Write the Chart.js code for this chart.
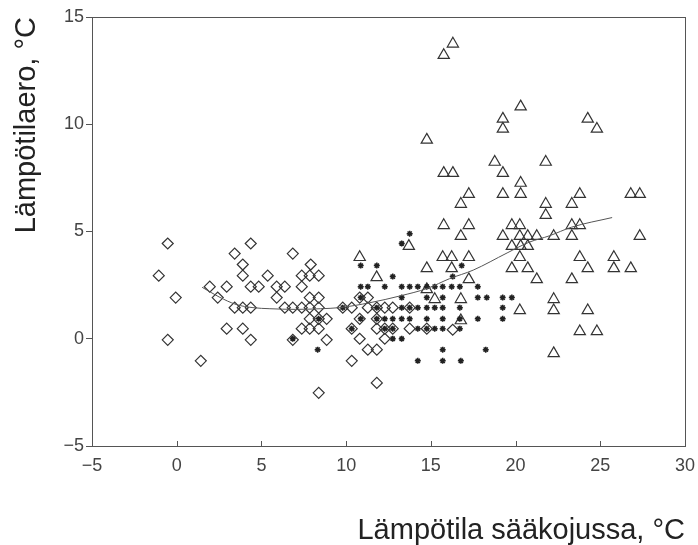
<!DOCTYPE html>
<html>
<head>
<meta charset="utf-8">
<script src="https://cdn.jsdelivr.net/npm/chart.js@4.4.1/dist/chart.umd.min.js"></script>
<style>
html,body{margin:0;padding:0;background:#fff;}
#wrap{width:698px;height:545px;}
</style>
</head>
<body>
<div id="wrap"><canvas id="c" width="698" height="545"></canvas></div>
<script>
// Axis ticks
const xTicks = [-5, 0, 5, 10, 15, 20, 25, 30];
const yTicks = [-5, 0, 5, 10, 15];

// Diamonds (cold)
const diamondX = [-0.53,4.37,3.42,6.85,3.9,7.91,-1.06,3.9,5.37,7.38,7.85,8.38,1.95,2.95,4.37,4.84,5.9,6.38,7.38,-0.06,2.42,5.9,7.85,8.38,3.42,3.9,4.37,6.38,6.85,7.38,7.85,8.38,7.85,8.38,8.85,2.95,3.9,7.38,7.85,8.38,-0.53,4.37,6.85,8.85,1.42,8.38,9.8,10.33,10.8,11.28,11.28,11.81,12.28,12.75,13.75,10.8,11.81,10.33,11.81,12.28,12.75,13.75,14.76,10.8,12.28,11.28,11.81,10.33,11.81,16.29];
const diamondY = [4.44,4.44,3.97,3.97,3.46,3.46,2.94,2.94,2.94,2.94,2.94,2.94,2.43,2.43,2.43,2.43,2.43,2.43,2.43,1.92,1.92,1.92,1.92,1.92,1.45,1.45,1.45,1.45,1.45,1.45,1.45,1.45,0.93,0.93,0.93,0.47,0.47,0.47,0.47,0.47,-0.05,-0.05,-0.05,-0.05,-1.03,-2.52,1.45,1.45,1.92,1.92,1.45,1.45,1.45,1.45,1.45,0.93,0.93,0.47,0.47,0.47,0.47,0.47,0.47,0,0,-0.51,-0.51,-1.03,-2.06,0.42];

// Stars (intermediate)
const starX = [13.75,13.28,10.86,11.81,16.82,12.75,16.29,
  10.86,11.28,12.28,13.28,13.75,14.23,14.76,15.23,15.7,16.23,16.71,17.77,
  10.86,13.28,14.76,15.7,17.77,18.3,19.24,19.78,
  9.8,11.81,13.28,13.75,14.23,14.76,15.23,15.7,16.71,19.24,
  8.38,10.86,11.81,12.28,12.75,13.28,13.75,14.76,15.7,16.71,17.77,19.24,
  10.33,12.28,12.75,14.23,14.76,15.23,15.7,16.71,
  6.85,12.75,13.28,
  8.32,15.7,18.24,
  14.23,15.7,16.77];
const starY = [4.9,4.44,3.41,3.41,3.41,2.9,2.9,
  2.43,2.43,2.43,2.43,2.43,2.43,2.43,2.43,2.43,2.43,2.43,2.43,
  1.92,1.92,1.92,1.92,1.92,1.92,1.92,1.92,
  1.45,1.45,1.45,1.45,1.45,1.45,1.45,1.45,1.45,1.45,
  0.93,0.93,0.93,0.93,0.93,0.93,0.93,0.93,0.93,0.93,0.93,0.93,
  0.47,0.47,0.47,0.47,0.47,0.47,0.47,0.47,
  0,0,0,
  -0.51,-0.51,-0.51,
  -1.03,-1.03,-1.03];

// Triangles (warm)
const triX = [16.3,15.76,20.3,19.25,19.25,24.26,24.8,14.76,18.77,21.78,15.76,16.3,19.25,20.3,17.24,19.25,20.3,23.79,26.8,27.33,16.77,21.78,23.32,21.78,15.76,17.24,19.78,20.25,23.32,23.79,16.77,19.25,20.25,20.72,21.25,22.25,23.32,27.33,13.7,19.78,20.3,20.72,10.8,15.7,16.23,17.24,20.25,23.79,25.8,11.8,14.76,16.23,19.78,20.72,24.26,25.8,26.8,17.24,21.25,23.32,14.76,15.23,16.77,22.25,20.25,22.25,24.26,16.77,23.79,24.8,22.25];
const triY = [13.75,13.22,10.82,10.25,9.78,10.25,9.78,9.27,8.24,8.24,7.72,7.72,7.72,7.26,6.74,6.74,6.74,6.74,6.74,6.74,6.28,6.28,6.28,5.76,5.29,5.29,5.29,5.29,5.29,5.29,4.78,4.78,4.78,4.78,4.78,4.78,4.78,4.78,4.32,4.32,4.32,4.32,3.8,3.8,3.8,3.8,3.8,3.8,3.8,2.86,3.28,3.28,3.28,3.28,3.28,3.28,3.28,2.77,2.77,2.77,2.3,1.84,1.84,1.84,1.32,1.32,1.32,0.85,0.34,0.34,-0.68];

// Fitted curve
const fitX = [1.5,2.5,3.5,4.5,5.5,7,8.5,9.6,11.4,13.2,14.8,16.1,17.5,19.5,20.8,22,23.3,25.7];
const fitY = [2.4,1.95,1.6,1.45,1.4,1.37,1.4,1.45,1.68,2.0,2.35,2.8,3.2,4.0,4.5,4.8,5.2,5.65];

const toPts = (xs, ys) => xs.map((x, i) => ({x: x, y: ys[i]}));
const minus = v => String(v).replace('-', '\u2212');

const framePlugin = {
  id: 'frame',
  afterDatasetsDraw(chart) {
    const {ctx, chartArea: a, scales} = chart;
    ctx.save();
    ctx.strokeStyle = '#555';
    ctx.lineWidth = 1;
    ctx.strokeRect(a.left + 0.5, a.top + 0.5, a.right - a.left, a.bottom - a.top);
    ctx.beginPath();
    xTicks.forEach(t => {
      const px = Math.round(scales.x.getPixelForValue(t)) + 0.5;
      ctx.moveTo(px, a.bottom);
      ctx.lineTo(px, a.bottom - 5);
    });
    ctx.stroke();
    ctx.restore();
  }
};

const tickFont = {family: "'Liberation Sans', Arial, sans-serif", size: 18};
const titleFont = {family: "'Liberation Sans', Arial, sans-serif", size: 29, lineHeight: 1};

new Chart(document.getElementById('c'), {
  type: 'scatter',
  data: {
    datasets: [
      {
        type: 'line',
        data: toPts(fitX, fitY),
        borderColor: '#555',
        borderWidth: 1,
        pointRadius: 0,
        fill: false,
        cubicInterpolationMode: 'monotone'
      },
      {
        data: toPts(diamondX, diamondY),
        pointStyle: 'rectRot',
        pointRadius: 5.5,
        borderColor: '#333',
        backgroundColor: 'rgba(0,0,0,0)',
        borderWidth: 1.2
      },
      {
        data: toPts(starX, starY),
        pointStyle: 'star',
        pointRadius: 3,
        borderColor: '#222',
        backgroundColor: '#222',
        borderWidth: 1.5
      },
      {
        data: toPts(triX, triY),
        pointStyle: 'triangle',
        pointRadius: 6.5,
        borderColor: '#333',
        backgroundColor: 'rgba(0,0,0,0)',
        borderWidth: 1.2
      }
    ]
  },
  options: {
    responsive: false,
    animation: false,
    events: [],
    layout: {padding: {left: 0, right: 13, top: 17, bottom: 0}},
    plugins: {legend: {display: false}, tooltip: {enabled: false}},
    scales: {
      x: {
        type: 'linear',
        min: -5, max: 30,
        afterFit: s => { s.height = 99; s.paddingLeft = 0; s.paddingRight = 0; },
        afterBuildTicks: s => { s.ticks = xTicks.map(v => ({value: v})); },
        grid: {display: true, drawOnChartArea: false, drawTicks: false},
        border: {display: true, color: '#555'},
        ticks: {font: tickFont, color: '#444', padding: 9, callback: minus, maxRotation: 0},
        title: {display: true, text: 'Lämpötila sääkojussa, °C', align: 'end', font: titleFont, color: '#222', padding: {top: 0, bottom: 0}}
      },
      y: {
        type: 'linear',
        min: -5, max: 15,
        afterFit: s => { s.width = 92; s.paddingTop = 0; s.paddingBottom = 0; },
        afterBuildTicks: s => { s.ticks = yTicks.map(v => ({value: v})); },
        grid: {display: true, drawOnChartArea: false, drawTicks: true, tickLength: 6, color: '#555'},
        border: {display: true, color: '#555'},
        ticks: {font: tickFont, color: '#444', padding: 2, callback: minus},
        title: {display: true, text: 'Lämpötilaero, °C', align: 'end', font: titleFont, color: '#222', padding: {top: 12, bottom: 0}}
      }
    }
  },
  plugins: [framePlugin]
});
</script>
</body>
</html>
